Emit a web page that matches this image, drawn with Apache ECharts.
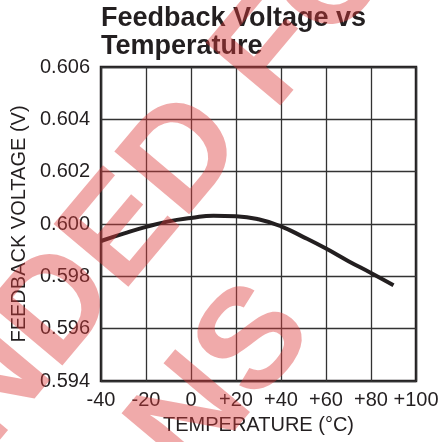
<!DOCTYPE html>
<html><head><meta charset="utf-8">
<script src="https://cdn.jsdelivr.net/npm/echarts@6/dist/echarts.min.js"></script>
<style>html,body{margin:0;padding:0;background:#fff}#c{width:442px;height:442px}</style>
</head><body><div id="c"></div>
<script>
const titleText = 'Feedback Voltage vs\nTemperature';
const xName = 'TEMPERATURE (°C)';
const yName = 'FEEDBACK VOLTAGE (V)';
const temps = [-40, -30, -20, -10, 0, 10, 20, 30, 40, 50, 60, 70, 80, 90];
const volts = [0.59935, 0.59963, 0.59989, 0.60010, 0.60023, 0.60032, 0.60030, 0.60018, 0.59991, 0.59950, 0.59906, 0.59858, 0.59813, 0.59766];
const xTicks = { min: -40, max: 100, step: 20 };
const yTicks = { min: 0.594, max: 0.606, step: 0.002 };
const watermark1 = 'NOT RECOMMENDED FOR';
const watermark2 = 'NEW DESIGNS';

const ink = '#231f20';
const font = 'Liberation Sans, Arial, sans-serif';
const chart = echarts.init(document.getElementById('c'), null, { renderer: 'canvas' });
const ang = 50 * Math.PI / 180;
const wm = (text, x, y) => ({
  type: 'text', x: x, y: y, rotation: ang, silent: true, z: 100,
  style: { text: text, fontFamily: font, fontSize: 142, fontWeight: 'bold',
    fill: 'rgba(221,58,58,0.43)', align: 'right', verticalAlign: 'middle' }
});
chart.setOption({
  animation: false,
  title: { text: titleText, left: 101, top: 5, padding: 0,
    textStyle: { fontFamily: font, fontSize: 27, fontWeight: 'bold', color: ink, lineHeight: 28 } },
  grid: { left: 101, right: 26, top: 67, bottom: 61, outerBoundsMode: 'none', containLabel: false,
    show: true, borderColor: ink, borderWidth: 2.5, backgroundColor: 'transparent' },
  xAxis: {
    type: 'value', min: xTicks.min, max: xTicks.max, interval: xTicks.step,
    name: xName, nameLocation: 'middle', nameGap: 34,
    nameTextStyle: { fontFamily: font, fontSize: 20, color: ink },
    axisLine: { show: false }, axisTick: { show: false },
    axisLabel: { fontFamily: font, fontSize: 20, color: ink, margin: 9,
      formatter: v => v > 0 ? '+' + v : String(v) },
    splitLine: { show: true, lineStyle: { color: '#333333', width: 1.3 } }
  },
  yAxis: {
    type: 'value', min: yTicks.min, max: yTicks.max, interval: yTicks.step,
    name: yName, nameLocation: 'middle', nameGap: 61, nameRotate: 90,
    nameTextStyle: { fontFamily: font, fontSize: 20, color: ink },
    axisLine: { show: false }, axisTick: { show: false },
    axisLabel: { fontFamily: font, fontSize: 20, color: ink, margin: 11,
      formatter: v => v.toFixed(3) },
    splitLine: { show: true, lineStyle: { color: '#333333', width: 1.3 } }
  },
  series: [{
    type: 'line', data: temps.map((t, i) => [t, volts[i]]), smooth: true, showSymbol: false,
    lineStyle: { color: ink, width: 4 }, z: 5
  }],
  graphic: [ wm(watermark1, 437, -142), wm(watermark2, 287, 307) ]
});
</script></body></html>
